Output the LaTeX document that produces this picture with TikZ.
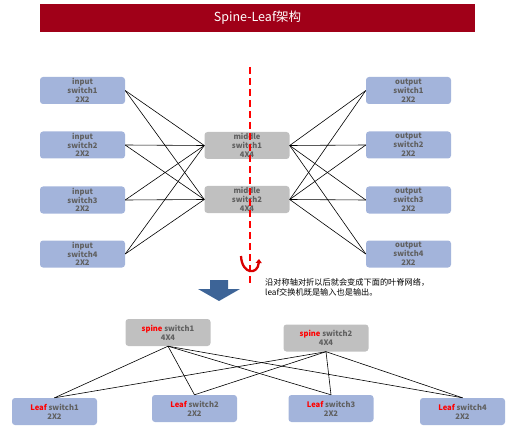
\documentclass[tikz,border=0pt]{standalone}
\usepackage{fontspec}
\setmainfont{Noto Sans CJK SC}
\usetikzlibrary{arrows.meta}
\definecolor{titlered}{HTML}{A00018}
\definecolor{boxblue}{HTML}{A3B4DB}
\definecolor{boxgray}{HTML}{C0C0C0}
\definecolor{txtgray}{HTML}{606060}
\definecolor{arrowblue}{HTML}{3D6497}
\tikzset{
  sw/.style={rounded corners=3pt, minimum width=85pt, minimum height=27pt, inner sep=0pt,
    align=center, text=txtgray, font=\bfseries\fontsize{7.6}{8.8}\selectfont},
  bluebox/.style={sw, fill=boxblue},
  graybox/.style={sw, fill=boxgray},
  link/.style={draw=black, line width=0.6pt},
  hl/.style={text=red}
}
\begin{document}
\begin{tikzpicture}[x=1pt,y=-1pt]
\useasboundingbox (0,0) rectangle (515,436);
% title
\fill[titlered] (40,4) rectangle (475,32);
\node[text=white, font=\fontsize{12.5}{14}\selectfont] (title) at (257.5,18) {Spine-Leaf架构};
% top network
\foreach \i/\y in {1/90.5,2/145,3/200,4/254} {
  \node[bluebox] (in\i) at (82.5,\y) {input\\switch\i\\2X2};
  \node[bluebox] (out\i) at (408.5,\y) {output\\switch\i\\2X2};
}
\node[graybox] (mid1) at (247,145.5) {middle\\switch1\\4X4};
\node[graybox] (mid2) at (247,199.5) {middle\\switch2\\4X4};
\foreach \i in {1,2,3,4} {
  \foreach \j in {1,2} {
    \draw[link] (in\i.east) -- (mid\j.west);
    \draw[link] (mid\j.east) -- (out\i.west);
  }
}
\coordinate (axtop) at (250,67);
\coordinate (axbot) at (250,284);
\draw[red, line width=1.6pt, dash pattern=on 7pt off 4pt] (axtop) -- (axbot);
\draw[red!85!black, line width=2.3pt, -{Triangle[length=4pt,width=6pt]}] (241,256) .. controls (242,275) and (258,275) .. (259,259);
% down arrow
\fill[arrowblue] (210,280) -- (228,280) -- (228,289) -- (240,289) -- (219,301) -- (198,289) -- (210,289) -- cycle;
\node[anchor=north west, align=left, inner sep=0pt, font=\fontsize{8.2}{10.5}\selectfont] (note) at (265,278)
  {沿对称轴对折以后就会变成下面的叶脊网络，\\leaf交换机既是输入也是输出。};
% bottom network
\node[graybox] (sp1) at (168,332.5) {\textcolor{red}{spine} switch1\\4X4};
\node[graybox] (sp2) at (326,338) {\textcolor{red}{spine} switch2\\4X4};
\node[bluebox] (lf1) at (54.5,411.5) {\textcolor{red}{Leaf} switch1\\2X2};
\node[bluebox] (lf2) at (194.5,408.5) {\textcolor{red}{Leaf} switch2\\2X2};
\node[bluebox] (lf3) at (331,408.5) {\textcolor{red}{Leaf} switch3\\2X2};
\node[bluebox] (lf4) at (462.5,411.5) {\textcolor{red}{Leaf} switch4\\2X2};
\foreach \s in {sp1,sp2} {
  \foreach \l in {lf1,lf2,lf3,lf4} {
    \draw[link] (\s.south) -- (\l.north);
  }
}
\end{tikzpicture}
\end{document}
